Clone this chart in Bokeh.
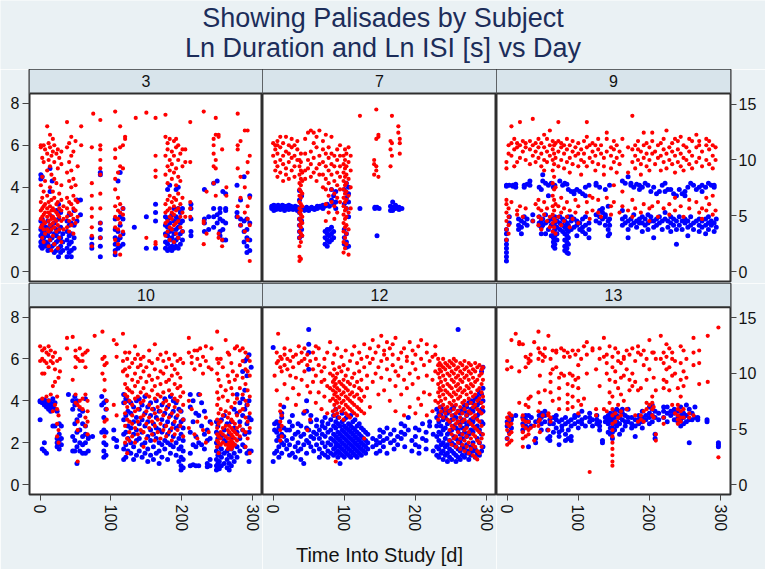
from bokeh.plotting import figure
from bokeh.models import Range1d, LinearAxis, FixedTicker, BoxAnnotation, Label, Span
from bokeh.layouts import gridplot, column
from bokeh.embed import file_html
from bokeh.resources import INLINE

TITLE_LINES = ["Showing Palisades by Subject", "Ln Duration and Ln ISI [s] vs Day"]
SUBJECTS = ["3", "7", "9", "10", "12", "13"]
X_TICKS = [0, 100, 200, 300]
Y_TICKS_LEFT = [0, 2, 4, 6, 8]
Y_TICKS_RIGHT = [0, 5, 10, 15]
X_LABEL = "Time Into Study [d]"

# ---- data: (day, [values at that day]), in left-axis units ----
s3_red = [
    (1, [2.1, 2.5, 2.9, 3.3, 4.1, 5.9, 6.0]), (3, [1.6, 2.2, 2.6, 3.0, 3.5, 4.5, 5.4]),
    (5, [1.4, 2.0, 2.4, 2.7, 3.1, 3.8, 5.2, 6.0]), (7, [1.8, 2.3, 2.8, 3.2, 4.3, 5.8]),
    (10, [2.0, 2.6, 3.0, 3.6, 4.8, 5.6, 6.9]), (12, [1.2, 1.9, 2.4, 2.8, 3.3, 5.3, 6.1]),
    (14, [1.5, 2.2, 2.7, 3.1, 4.0, 5.0, 5.9, 6.5]), (16, [1.0, 2.0, 2.5, 2.9, 3.4, 4.6, 5.5]),
    (18, [1.7, 2.3, 2.6, 3.0, 3.8, 5.7, 6.3]), (20, [1.3, 2.1, 2.5, 2.9, 3.5, 4.4, 5.2, 6.0]),
    (23, [1.9, 2.4, 2.8, 3.2, 4.2, 5.6]), (25, [1.1, 2.2, 2.7, 3.3, 4.9, 5.8]),
    (27, [1.6, 2.0, 2.6, 3.0, 3.7, 5.4]), (30, [1.4, 2.4, 2.9, 3.4, 4.1, 5.1, 5.7]),
    (33, [2.0, 2.5, 3.1]), (38, [2.1, 2.6, 3.0, 3.5, 4.7, 5.9, 7.1]),
    (41, [1.9, 2.4, 2.8, 3.3, 4.3, 5.2, 6.1]), (44, [2.2, 2.7, 3.2, 4.0, 4.8, 5.5, 6.4]),
    (47, [1.8, 2.5, 3.0, 3.6, 4.4, 5.7]), (50, [2.3, 2.9, 3.4, 4.1, 6.2]),
    (53, [2.6, 3.3, 5.0]), (58, [6.9, 6.0]),
    (73, [1.2, 1.7, 2.1, 2.6, 3.0, 3.6, 4.2, 5.9]), (75, [7.5]),
    (85, [1.6, 2.3, 3.0, 3.7, 4.6, 4.9, 5.3, 5.8, 6.0, 7.2]),
    (106, [0.9, 1.5, 2.1, 2.6, 3.1, 3.9, 4.4, 5.4, 5.8, 7.6]), (110, [1.3, 2.0, 2.5, 2.9, 3.5, 4.7]),
    (113, [0.8, 1.7, 2.3, 2.8, 3.2, 5.0, 5.9, 6.9]), (117, [1.9, 2.7, 3.0, 4.9, 6.0]),
    (120, [6.4, 6.3]), (135, [7.3]), (150, [1.6, 7.55]), (163, [1.3, 1.4, 4.5, 4.8, 5.5, 7.3]),
    (177, [1.7, 2.3, 2.8, 3.2, 4.6, 5.5, 6.4, 7.45]), (180, [1.9, 2.4, 2.9, 3.4, 4.2, 5.0, 5.8, 6.1]),
    (183, [1.5, 2.1, 2.6, 3.0, 3.6, 4.8, 5.3, 6.3]), (186, [2.0, 2.5, 2.8, 3.3, 4.4, 5.1, 5.7]),
    (189, [1.4, 2.2, 2.7, 3.1, 3.5, 4.7, 5.5, 6.2]), (192, [1.8, 2.3, 2.9, 3.4, 4.1, 4.9, 5.9, 6.3]),
    (195, [1.6, 2.4, 3.0, 3.7, 4.5, 5.3, 6.0]), (198, [2.1, 2.6, 3.2, 4.3, 5.6]),
    (201, [1.9, 2.8, 3.5, 5.0, 5.8]), (205, [2.6, 5.2, 5.8]), (212, [2.6, 3.0, 3.3, 5.2, 7.1]),
    (231, [1.3, 2.3, 2.4, 7.6]), (235, [1.8, 3.8]), (245, [4.2, 5.0, 5.6, 6.0, 6.3]),
    (248, [3.6, 4.9, 5.3, 6.5, 7.3]), (252, [1.6, 1.8, 6.4, 6.5]), (257, [1.5, 1.2, 5.8]),
    (263, [3.6, 4.0]), (279, [2.6, 3.1, 4.9, 5.8, 6.0, 7.5]), (283, [2.2, 3.5, 4.5, 6.2]),
    (289, [1.9, 2.8, 4.0, 6.7]), (293, [1.5, 2.5, 3.1, 4.7, 5.2, 6.7]), (296, [0.5, 2.2, 3.5, 5.5]),
]
s3_blue = [
    (1, [1.2, 1.4, 1.7, 2.0, 2.4, 4.4, 4.6]), (3, [1.1, 1.5, 1.8, 2.2, 2.5, 4.5]),
    (5, [1.3, 1.6, 1.9, 2.3]), (8, [1.2, 1.4, 1.8, 2.1]), (11, [1.0, 1.3, 1.7, 2.0, 2.4]),
    (14, [1.1, 1.5, 1.9, 2.2, 3.8, 4.9]), (17, [1.2, 1.6, 2.1, 2.6, 4.3]), (20, [0.9, 1.3, 1.8, 2.3]),
    (23, [1.0, 1.4, 1.7, 2.0, 2.9]), (26, [0.7, 1.1, 1.5, 1.9, 2.5, 3.2]), (29, [0.9, 1.2, 1.6, 2.1, 2.8]),
    (32, [1.0, 1.4, 1.8]), (38, [0.7, 1.1, 1.5, 1.9, 2.4]), (41, [0.9, 1.3, 1.7, 2.2, 2.7]),
    (44, [0.7, 1.0, 1.4, 1.8, 2.3]), (48, [1.1, 1.6, 2.2, 2.9]), (52, [2.4, 3.4]), (57, [2.7, 3.4]),
    (73, [1.1, 1.3, 1.6]), (85, [0.7, 1.2, 1.6, 2.0, 2.3, 4.6, 4.7]),
    (106, [0.8, 1.0, 1.3, 1.6, 2.0, 2.5]), (110, [1.1, 1.5, 1.9, 4.3]), (113, [1.2, 1.6, 2.2, 2.6, 4.7]),
    (117, [1.3, 1.8, 2.5, 3.0]), (133, [2.1]), (150, [1.1, 2.6]), (163, [1.1, 2.4, 2.8, 3.2]),
    (177, [1.1, 1.4, 1.8, 2.2, 2.6]), (180, [1.0, 1.3, 1.7, 2.1, 2.5, 3.9]), (183, [1.1, 1.5, 1.9, 2.3, 4.1]),
    (186, [1.0, 1.2, 1.6, 2.0, 2.7]), (189, [1.1, 1.4, 1.8, 2.4, 3.0]), (192, [1.2, 1.5, 2.0, 2.6, 3.9]),
    (195, [1.1, 1.6, 2.1, 2.5, 3.0, 4.0]), (198, [1.3, 1.8, 2.3, 2.8]), (201, [1.5, 1.9, 2.4, 3.0]),
    (213, [1.7, 1.9, 2.5, 3.0, 3.2]), (232, [1.9, 2.3, 2.5, 3.9]), (238, [2.0, 2.6]),
    (245, [2.1, 2.6, 3.0, 4.2]), (250, [2.3, 2.7, 4.3]), (254, [1.7, 1.9, 2.5, 3.0, 2.8]),
    (258, [1.5, 2.0, 2.4, 3.8]), (262, [1.5, 2.3, 2.9, 3.0, 3.7]), (278, [2.6, 2.8, 4.1]),
    (283, [2.2, 2.5, 3.4]), (288, [1.4, 1.9, 2.4, 4.5]), (292, [0.9, 1.2, 1.6, 2.0, 2.5]),
    (296, [1.0, 1.5, 2.3, 3.6]),
]
s7_red = [
    (0, [5.5, 6.1]), (3, [4.8, 5.2, 5.8, 6.0]), (6, [4.5, 5.0, 5.6, 6.2, 6.0]), (10, [4.7, 5.3, 5.9, 6.4]),
    (14, [4.3, 5.1, 5.5, 6.1]), (18, [4.6, 4.9, 5.7, 6.4]), (22, [4.4, 5.2, 5.6, 6.0]),
    (26, [4.8, 5.4, 5.9, 6.3]), (30, [4.5, 5.0, 5.5, 6.0]), (34, [5.3, 5.8, 6.2]),
    (37, [0.5, 0.7, 1.2, 1.6, 1.9, 2.2, 2.5, 2.8, 3.0, 3.3, 3.6, 3.9, 4.2, 4.6, 5.0, 5.3]),
    (39, [0.6, 1.4, 1.8, 2.1, 2.4, 2.7, 2.9, 3.2, 3.5, 3.8, 4.1, 4.4, 4.8, 5.2, 5.6]),
    (41, [1.7, 2.3, 2.6, 3.1, 3.7, 4.3, 4.7]), (45, [4.4, 4.8, 5.6, 6.3]), (49, [4.9, 5.3, 6.6]),
    (53, [4.5, 5.1, 5.7, 6.7]), (57, [4.7, 5.4, 6.1, 6.6]), (61, [4.3, 4.9, 5.9, 6.4]),
    (65, [4.6, 5.1, 5.5, 6.7]), (70, [4.0, 4.6, 5.2, 5.8, 6.2]), (74, [2.4, 3.2, 3.9, 4.4, 5.0, 5.6, 6.5]),
    (78, [2.8, 3.6, 4.2, 4.8, 5.4, 5.9]), (82, [3.3, 3.9, 4.6, 5.1, 5.6, 6.4]),
    (86, [2.5, 3.1, 3.7, 4.3, 5.0, 5.5]), (90, [2.8, 3.5, 4.1, 4.7, 5.3, 5.8]),
    (94, [3.3, 3.9, 4.5, 5.0, 5.5, 6.0]),
    (99, [0.9, 1.4, 1.9, 2.3, 2.7, 3.1, 3.5, 3.9, 4.3, 4.7, 5.1, 5.5]),
    (101, [1.1, 1.6, 2.1, 2.5, 2.9, 3.3, 3.7, 4.1, 4.5, 4.9, 5.3, 5.8]),
    (103, [1.3, 1.8, 2.2, 2.6, 3.0, 3.4, 3.8, 4.2, 4.6, 5.0, 5.6]),
    (106, [0.8, 2.0, 2.8, 3.6, 4.4, 5.2, 5.9]), (109, [3.0, 4.0, 4.8, 5.5]), (122, [7.4]),
    (142, [4.6, 5.1, 5.3]), (145, [4.8, 5.0, 6.3, 7.7]), (148, [4.5, 6.5, 6.4]),
    (165, [5.0, 5.8, 6.2]), (167, [5.5, 6.1, 7.4]), (176, [6.9, 6.6]), (178, [6.3, 6.1, 5.6]),
]
s7_blue = [
    (-2, [3.0, 3.1]), (1, [2.9, 3.05, 3.15]), (4, [2.95, 3.1]), (7, [3.0, 3.1, 3.15]), (10, [2.95, 3.05]),
    (13, [3.0, 3.15]), (16, [2.9, 3.05, 3.1]), (19, [3.0, 3.1]), (22, [2.95, 3.05, 3.15]), (25, [3.0, 3.1]),
    (28, [2.95, 3.05]), (31, [3.0, 3.1]), (34, [2.9, 3.05]),
    (37, [1.6, 1.9, 2.2, 2.5, 2.8, 3.0, 3.4, 3.85]), (40, [1.7, 2.0, 2.4, 3.05, 3.6]),
    (44, [2.9, 3.0]), (47, [2.95, 3.05]), (50, [2.9, 3.0]), (54, [3.0, 3.05]), (58, [2.95, 3.0]),
    (62, [3.0, 3.1]), (66, [3.05, 3.1]), (70, [3.0, 3.15]), (73, [1.3, 1.6, 1.9, 3.1]),
    (76, [1.2, 1.5, 1.8, 2.0, 3.2]), (79, [1.4, 1.7, 2.0, 3.1]), (82, [1.5, 1.8, 2.1, 3.4, 3.9]),
    (85, [1.6, 1.9, 3.2, 3.6]), (88, [3.0, 3.3, 3.8]), (100, [1.3, 1.6, 2.0, 3.2, 3.9]),
    (103, [1.15, 1.4, 1.8, 3.0, 3.5, 4.2]), (106, [1.2, 2.6, 3.3, 3.7, 4.0]), (122, [3.0]),
    (143, [3.0, 3.05]), (146, [1.7, 3.05]), (149, [3.0]), (165, [2.9, 3.1]), (168, [3.05, 3.3, 2.9]),
    (172, [3.0, 3.1, 3.15]), (177, [2.95, 3.05]), (181, [3.0]),
]
s9_red = [
    (-1, [1.5, 2.0, 2.4, 2.8, 3.2, 3.4, 4.9, 5.2]), (2, [1.8, 2.2, 2.6, 3.0, 5.6, 6.0]),
    (6, [3.3, 5.5, 6.1, 6.9]), (10, [5.8, 6.3, 5.0]), (14, [2.7, 2.9, 5.2, 5.9, 6.1]),
    (18, [3.1, 5.4, 6.0, 7.1]), (22, [2.6, 5.7, 6.2]), (26, [3.0, 5.3, 5.9, 6.1]), (32, [5.1, 5.8, 6.2]),
    (36, [2.4, 5.5, 6.0, 7.25]), (40, [3.2, 5.2, 5.7, 6.1]), (44, [2.2, 2.6, 3.0, 3.4, 5.4, 5.9, 6.3]),
    (48, [2.0, 2.5, 2.9, 5.0, 5.6, 6.1]), (52, [2.7, 3.3, 4.8, 5.3, 5.9, 6.5]),
    (56, [2.4, 3.0, 5.2, 5.7, 6.3]), (60, [2.1, 2.6, 5.5, 6.0, 6.7]),
    (64, [1.9, 2.3, 2.7, 3.1, 3.6, 4.2, 4.8, 5.3, 5.8, 6.2]),
    (66, [2.1, 2.5, 2.9, 3.4, 3.9, 4.5, 5.1, 5.6, 6.0]), (68, [1.8, 2.4, 3.2, 4.0, 5.4, 6.1]),
    (72, [2.6, 3.1, 5.0, 5.7, 6.2, 7.1]), (76, [2.2, 2.8, 3.5, 5.3, 5.9, 6.1]),
    (80, [2.4, 3.0, 4.9, 5.6, 6.0]), (84, [2.6, 3.3, 5.2, 5.8, 6.3]), (88, [2.1, 2.9, 4.7, 5.4, 6.0]),
    (92, [2.5, 5.1, 5.7, 6.2]), (96, [2.8, 3.4, 5.5, 5.9]), (100, [2.3, 3.1, 5.0, 5.6, 6.1]),
    (104, [4.6, 5.3, 5.8]), (108, [5.2, 5.6, 6.2]), (112, [2.8, 3.3, 5.0, 5.9, 6.4, 7.1]),
    (116, [2.5, 3.6, 5.4, 6.0]), (120, [2.9, 3.5, 5.2, 5.7, 6.1]), (124, [4.8, 5.5, 6.0]),
    (128, [2.8, 3.4, 5.1, 5.8, 6.3]), (132, [2.6, 5.6, 6.0]), (136, [4.6, 5.0, 5.4]),
    (140, [3.5, 5.7, 6.3, 6.6]), (146, [2.7, 3.1, 4.9, 5.5, 5.9]), (150, [3.3, 4.1, 5.2, 5.8, 6.2]),
    (154, [4.7, 5.4, 6.0]), (158, [2.8, 5.1, 5.7]), (162, [3.1, 3.8, 5.5, 6.3]), (170, [2.9, 4.7, 5.9]),
    (176, [2.6, 3.4, 5.2, 5.8, 7.4]), (180, [3.0, 4.9, 5.5, 6.0]), (184, [5.3, 5.8, 6.2]),
    (188, [2.8, 4.6, 5.1, 5.7]), (192, [3.2, 5.4, 6.0, 6.6]), (196, [5.0, 5.6, 6.1]),
    (200, [2.4, 3.0, 4.8, 5.3, 5.9]), (204, [3.1, 5.6, 6.2, 6.6]), (208, [5.1, 5.7]),
    (212, [2.6, 3.3, 5.4, 6.0]), (216, [4.8, 5.5, 6.1]), (220, [3.0, 5.2, 5.8, 6.3]),
    (224, [4.9, 5.6, 6.7]), (228, [2.7, 3.2, 5.3, 5.9]), (232, [5.1, 5.7, 6.1]),
    (236, [2.9, 3.5, 4.7, 5.5, 6.3]), (240, [5.2, 5.8, 6.2]), (244, [3.1, 5.0, 5.6, 6.4]),
    (248, [2.6, 4.8, 5.4, 6.0]), (252, [5.3, 5.9]), (256, [3.0, 3.4, 5.1, 5.7, 6.3]),
    (260, [4.9, 5.5, 6.2]), (266, [3.3, 5.2, 5.9, 6.5]), (270, [2.8, 5.4, 6.0, 6.2]),
    (274, [2.5, 3.0, 5.0, 5.7]), (280, [2.9, 3.5, 5.3, 6.0, 6.3]), (284, [3.2, 5.1, 5.8, 6.2]),
    (289, [2.7, 3.6, 4.9, 5.5, 6.0]), (293, [2.9, 5.3, 5.9]),
]
s9_blue = [
    (-1, [0.5, 0.7, 0.9, 1.1, 1.3, 1.5, 1.8, 2.0, 4.1, 4.05]), (3, [2.3, 2.6, 4.1]), (8, [4.05, 4.1]),
    (12, [4.0, 4.15]), (16, [2.2, 2.5, 2.0]), (20, [1.8, 2.1, 2.4]), (24, [2.3, 2.6, 4.1, 4.0]),
    (28, [2.2, 2.5, 4.15]), (32, [4.1, 4.3]), (36, [2.4, 2.7]), (45, [2.2, 2.3, 2.6, 4.0]),
    (48, [1.8, 2.1, 2.4, 3.9]), (50, [2.2, 2.5, 4.6, 4.3]), (54, [1.8, 2.3, 2.7, 4.2]),
    (58, [2.0, 2.4, 3.6, 4.1]), (62, [1.7, 2.2, 2.5, 4.2]), (65, [1.2, 1.4, 1.6, 1.9, 2.2, 2.5, 4.0]),
    (67, [1.1, 1.3, 1.7, 2.0, 2.3, 2.6, 4.1]), (70, [1.5, 1.8, 2.1, 2.4]), (74, [2.0, 2.3, 2.6, 4.3]),
    (78, [1.9, 2.2, 2.5, 4.1]), (81, [1.0, 1.2, 1.5, 1.8, 2.1, 2.4, 4.2]),
    (84, [0.9, 1.1, 1.4, 1.7, 2.0, 2.3, 4.15]), (86, [0.85, 1.3, 1.6, 1.9, 2.2, 2.6, 3.9]),
    (90, [2.0, 2.4, 2.6, 3.8]), (94, [2.1, 2.5, 3.8, 3.7]), (98, [1.7, 2.2, 2.4, 3.9]),
    (102, [2.0, 2.3, 3.8]), (106, [1.9, 2.1, 2.5, 3.7]), (110, [1.8, 2.2, 2.6, 3.6, 4.0]),
    (115, [1.6, 2.0, 2.3, 4.1]), (125, [2.4, 2.7, 4.2, 4.1]), (130, [2.3, 2.6, 2.9, 4.0]),
    (134, [2.5, 2.8, 3.0]), (138, [2.2, 2.6, 2.7, 3.9]), (142, [1.7, 2.0, 2.4, 3.1]),
    (144, [1.8, 2.2, 2.5, 4.1]), (162, [2.2, 2.5, 2.9, 4.3]), (166, [2.3, 2.6, 4.2]),
    (170, [1.6, 2.0, 2.4, 4.5]), (174, [2.2, 2.5, 4.2, 4.1]), (178, [2.3, 2.7, 4.0]),
    (182, [2.1, 2.4, 4.15]), (186, [2.3, 2.5, 3.9, 4.1]), (190, [1.9, 2.3, 2.6, 4.0]),
    (194, [2.2, 2.5, 4.2]), (198, [2.0, 2.3, 2.7, 4.1]), (202, [2.4, 2.6, 3.8]),
    (206, [1.6, 2.1, 2.4, 4.0]), (210, [2.2, 2.5, 3.7]), (214, [2.3, 2.6, 3.8]), (218, [2.0, 2.4, 4.1]),
    (222, [2.5, 2.8, 4.2, 3.8]), (226, [2.1, 2.4, 3.9]), (230, [1.9, 2.3, 2.6, 3.9]),
    (234, [2.2, 2.5, 3.7]), (238, [1.3, 2.0, 2.4, 3.6]), (242, [2.2, 2.6, 3.9]), (246, [2.0, 2.4, 3.7]),
    (250, [2.3, 2.5, 3.6, 3.8]), (254, [1.7, 2.1, 2.4, 4.0]), (258, [2.2, 2.6, 4.2]),
    (262, [2.0, 2.3, 4.1]), (266, [2.4, 3.9]), (270, [1.9, 2.2, 2.5, 4.0]), (274, [2.1, 2.4, 3.8, 4.1]),
    (279, [1.8, 2.2, 2.5, 4.0]), (283, [2.0, 2.3, 2.6, 4.2]), (287, [2.2, 2.4, 4.1]),
    (291, [1.9, 2.3, 4.0, 4.1]), (294, [2.1, 2.5]),
]
s10_red = [
    (0, [5.9, 6.6]), (3, [4.1, 5.3, 6.0, 6.4]), (6, [5.3, 5.9, 6.5]), (9, [5.8, 6.3, 4.2]),
    (12, [4.0, 5.6, 6.2, 6.6]), (15, [4.3, 5.9, 6.4]), (18, [3.5, 4.7, 5.8, 6.1]),
    (21, [3.8, 4.9, 5.5, 6.3]), (24, [2.3, 2.9, 3.6, 4.2, 5.9]), (26, [2.0, 2.6, 3.3, 5.1]),
    (28, [6.0, 5.4]), (38, [7.0, 6.5]), (46, [5.0, 7.05]), (50, [3.9, 4.3, 5.6, 6.4, 6.1]),
    (53, [1.1, 2.6, 3.0, 3.8, 6.0]), (56, [3.7, 4.0, 5.9, 6.5]), (60, [3.6, 4.1, 6.2, 5.9]),
    (64, [2.8, 3.2, 4.3, 5.6, 6.3]), (67, [2.4, 3.0, 3.5, 4.0, 6.4]), (77, [7.1]),
    (88, [5.3, 6.0, 7.3]), (91, [2.3, 3.0, 4.5, 5.0, 5.7, 6.1]), (94, [3.1, 3.6, 4.0, 5.8]),
    (104, [6.9, 3.8]), (108, [3.3, 6.7, 6.1]), (117, [7.2, 5.4, 5.9]),
    (120, [2.0, 2.8, 3.4, 3.9, 4.3, 4.8, 5.5, 6.3]), (123, [1.5, 2.2, 3.1, 3.7, 4.2, 4.6, 5.2, 6.0]),
    (126, [2.1, 2.5, 3.0, 4.0, 4.5, 5.6, 6.3]), (130, [2.3, 2.9, 3.3, 3.8, 4.4, 5.0, 5.8]),
    (134, [2.0, 2.7, 3.5, 4.1, 4.7, 5.3, 6.0, 6.6]), (138, [2.4, 3.0, 3.6, 4.2, 4.9, 5.6, 6.2]),
    (142, [2.6, 3.2, 3.9, 4.4, 5.1, 5.7, 6.0]), (146, [1.8, 2.5, 3.3, 4.0, 4.6, 5.4, 6.1]),
    (150, [2.2, 2.9, 3.5, 4.3, 4.9, 5.6]), (154, [2.7, 3.2, 3.8, 4.2, 5.2, 5.9, 6.4]),
    (158, [2.4, 3.0, 3.6, 4.5, 5.0, 5.8]), (162, [2.1, 2.8, 3.4, 4.1, 4.7, 5.5, 6.7]),
    (166, [2.5, 3.1, 3.7, 4.3, 5.1, 6.0]), (170, [2.2, 2.9, 3.5, 4.2, 4.8, 5.4, 6.2]),
    (174, [2.6, 3.3, 3.9, 4.4, 5.3, 5.9]), (178, [2.3, 2.8, 3.6, 4.0, 4.9, 5.6, 6.3]),
    (182, [2.5, 3.2, 3.8, 4.5, 5.0, 6.0]), (186, [2.1, 2.7, 3.4, 4.3, 5.2, 5.7]),
    (190, [2.4, 3.0, 3.7, 4.1, 4.8, 5.5, 6.2]), (194, [2.6, 3.3, 4.0, 4.6, 5.3, 5.9]),
    (198, [2.8, 3.5, 4.2, 4.7, 5.1, 6.0]), (202, [2.3, 3.1, 3.8, 4.4, 5.8]),
    (210, [7.0, 6.3, 4.0, 2.7]), (214, [5.8, 6.1, 3.6]), (218, [6.4, 5.5, 2.4]), (222, [6.0, 6.4, 3.0, 2.2]),
    (226, [6.5, 5.7, 4.3]), (230, [6.1, 5.3, 2.6]), (234, [6.6, 5.9, 3.2, 2.0]), (238, [5.6, 2.5]),
    (242, [6.5, 5.5, 2.9]), (250, [7.3, 6.0, 5.3, 4.4, 3.8, 3.1, 2.7, 2.4, 2.1, 1.8]),
    (252, [5.8, 5.0, 4.1, 3.4, 2.9, 2.3, 2.0, 1.5]), (255, [6.0, 4.7, 3.6, 3.0, 2.5, 2.2, 1.9]),
    (258, [5.6, 4.2, 3.3, 2.7, 2.4, 2.0]), (262, [6.9, 4.5, 3.5, 2.8, 2.3, 1.9]),
    (265, [6.3, 5.2, 4.0, 3.2, 2.6, 2.2, 1.9, 1.7]), (267, [6.2, 4.9, 3.4, 2.8, 2.5, 2.2, 2.0, 1.8]),
    (270, [5.8, 4.6, 3.7, 3.1, 2.7, 2.4, 2.1, 1.9, 1.7]), (272, [5.4, 4.3, 3.0, 2.6, 2.3, 2.0, 1.8]),
    (275, [6.5, 5.0, 3.9, 2.9, 2.5, 2.2, 1.9]), (278, [6.6, 5.2, 4.1, 3.3, 2.7, 2.4, 2.1]),
    (282, [6.4, 5.7, 4.6, 3.5, 2.8, 2.3]), (286, [6.5, 5.9, 5.1, 4.3, 3.6, 2.6]),
    (290, [6.3, 5.5, 4.8, 4.0, 3.2, 2.5, 1.8]), (293, [6.1, 5.4, 4.5, 3.8, 3.0, 2.2]),
    (296, [5.9, 5.2, 4.2, 3.4, 2.7, 1.5]),
]
s10_blue = [
    (0, [3.1, 4.0, 3.95]), (3, [3.9, 4.0, 1.7]), (6, [3.8, 4.05, 1.6, 2.0]), (9, [3.7, 3.95, 1.5]),
    (12, [3.6, 3.85, 4.0]), (15, [3.5, 3.75, 3.9]), (18, [2.8, 3.7, 4.1]), (21, [2.8, 3.6, 3.9]),
    (24, [1.8, 2.0, 2.2, 3.5]), (27, [1.7, 2.1, 2.4, 2.9]), (30, [1.9, 2.2, 2.8]), (40, [4.3]),
    (46, [3.6, 4.0, 2.3, 1.6]), (49, [1.6, 2.1, 2.9, 4.2, 3.8]), (52, [1.0, 1.8, 2.5, 3.1, 4.0]),
    (56, [1.6, 2.0, 2.6, 3.3, 3.6]), (60, [1.5, 1.9, 2.3, 2.9, 3.5]), (64, [1.5, 2.0, 2.4, 2.8, 4.1]),
    (68, [1.6, 2.2, 2.3]), (74, [2.3]), (87, [3.8, 4.2, 2.5]), (90, [1.3, 1.6, 2.0, 2.6, 3.2, 3.9]),
    (93, [1.4, 1.9, 2.5, 3.6, 4.0]), (104, [2.2, 2.6]), (108, [1.8, 2.1]),
    (118, [1.2, 1.7, 2.4, 3.1, 3.9, 4.3]), (121, [1.3, 1.9, 2.5, 3.3, 4.1]), (124, [1.6, 2.2, 2.8, 3.5, 4.0]),
    (128, [1.5, 2.0, 2.7, 3.4, 3.9]), (132, [1.2, 1.8, 2.4, 3.0, 3.7]), (136, [1.4, 2.1, 2.6, 3.2, 4.0]),
    (140, [1.6, 2.2, 2.9, 3.6, 4.1]), (144, [1.3, 1.9, 2.5, 3.1, 3.8]), (148, [1.5, 2.0, 2.8, 3.4, 4.2]),
    (152, [1.1, 1.7, 2.3, 3.0, 3.7]), (156, [1.4, 2.1, 2.6, 3.3, 3.9]), (160, [1.2, 1.8, 2.4, 2.9, 3.6]),
    (164, [1.5, 2.2, 2.7, 3.2, 4.0]), (168, [1.0, 1.6, 2.0, 2.6, 3.5]), (172, [1.3, 1.9, 2.5, 3.1, 3.8]),
    (176, [1.7, 2.1, 2.8, 3.4, 4.1]), (180, [1.2, 2.0, 2.4, 3.0, 3.7]), (184, [1.5, 1.9, 2.6, 3.3, 4.2]),
    (188, [1.8, 2.3, 2.9, 3.5, 4.0]), (192, [1.4, 2.0, 2.7, 3.2, 3.9]), (196, [1.1, 1.7, 2.2, 2.8, 3.6]),
    (199, [0.7, 0.9, 1.3, 1.8, 2.4, 3.0, 3.5]), (202, [0.8, 1.2, 1.6, 2.1, 2.7, 3.1]),
    (212, [0.9, 1.5, 2.5, 4.3, 3.7]), (216, [0.95, 1.9, 3.0, 4.0]), (220, [0.9, 1.8, 2.3, 3.4]),
    (224, [0.9, 4.3, 3.3, 2.0]), (228, [1.9, 2.8, 3.9]), (232, [1.7, 2.4, 3.5]), (236, [0.85, 1.0, 2.1, 2.6]),
    (240, [0.9, 1.2, 2.2, 3.0]), (249, [0.7, 0.9, 1.2, 1.6, 2.0, 2.5, 3.0]),
    (251, [0.8, 1.0, 1.4, 1.8, 2.2, 2.8]), (253, [0.75, 1.1, 1.5, 1.9, 2.4]),
    (256, [0.9, 1.3, 1.7, 2.3, 3.1]), (260, [1.0, 1.5, 2.1, 2.6, 3.3]), (264, [0.8, 1.2, 1.6, 2.0, 2.9]),
    (267, [0.7, 1.0, 1.4, 1.8, 2.4]), (270, [0.9, 1.3, 1.7, 2.2, 3.0]), (274, [1.1, 1.5, 1.9, 2.7, 3.6]),
    (278, [1.3, 1.8, 2.5, 3.4, 4.3]), (282, [1.6, 2.2, 3.0, 3.9]), (286, [1.9, 2.6, 3.3, 4.1, 5.4]),
    (289, [1.8, 2.4, 3.6, 4.5, 5.9]), (292, [1.5, 2.9, 3.8, 5.2, 6.0]),
    (295, [1.1, 1.6, 2.5, 3.2, 4.0, 6.2]), (298, [1.6, 3.1, 5.6]),
]
s12_red = [
    (2, [5.2]), (5, [4.5, 5.8, 6.3]), (7, [7.2, 5.9]), (10, [2.1, 2.6, 3.0, 3.5, 3.8, 5.6, 6.1]),
    (12, [2.3, 2.8, 3.3, 5.4, 6.0]), (16, [4.8, 5.7, 6.2, 6.5]), (20, [4.1, 5.5, 6.0]),
    (24, [5.2, 5.9, 6.4]), (28, [4.6, 5.6, 6.1]), (32, [3.8, 5.1, 6.2]), (36, [4.3, 5.8, 6.6]),
    (40, [5.0, 5.9, 6.3]), (44, [3.5, 5.4, 6.0, 6.5]), (48, [2.6, 4.7, 5.7, 6.2]), (52, [3.1, 4.4, 5.9]),
    (56, [4.9, 5.5, 6.3]), (60, [3.9, 5.2, 6.0, 6.6]), (64, [4.4, 5.7, 6.5]), (68, [3.6, 4.9, 5.4]),
    (72, [4.2, 5.0, 5.6, 6.0]), (76, [3.4, 4.7, 6.3]), (80, [4.0, 4.6, 5.3, 6.8]),
    (84, [3.5, 4.1, 4.5, 4.9, 5.2, 5.8]), (86, [3.3, 3.8, 4.3, 4.7, 5.0, 5.5, 6.2]),
    (88, [1.1, 3.6, 4.0, 4.4, 4.8, 5.1]), (90, [3.4, 3.9, 4.2, 4.6, 5.3, 6.5]),
    (93, [3.2, 3.7, 4.1, 4.5, 4.9, 5.6]), (96, [3.5, 3.9, 4.3, 4.8, 5.4, 6.1]),
    (99, [3.1, 3.6, 4.0, 4.4, 4.7, 5.0, 5.7]), (102, [3.4, 3.8, 4.2, 4.6, 5.2, 6.4]),
    (105, [3.3, 3.7, 4.1, 4.5, 4.9, 5.5]), (108, [3.2, 3.6, 4.0, 4.3, 4.8, 5.9]),
    (111, [3.5, 3.9, 4.4, 5.1, 6.2]), (114, [3.4, 3.8, 4.2, 4.7, 5.3, 6.6]),
    (118, [3.3, 3.7, 4.3, 4.9, 5.8]), (121, [3.6, 4.1, 4.6, 5.4, 6.3]), (124, [3.5, 4.0, 4.5, 5.0, 6.0]),
    (128, [2.2, 3.4, 4.2, 5.6, 6.7]), (132, [4.6, 5.2, 6.1]), (136, [3.7, 5.8, 6.5]), (140, [4.9, 6.0, 6.9]),
    (144, [5.3, 6.3]), (148, [4.3, 5.6, 6.6]), (152, [5.1, 5.9, 7.1]), (156, [4.5, 6.2, 6.4]),
    (160, [5.5, 6.0, 6.8]), (164, [4.0, 5.0, 6.5]), (168, [5.7, 6.2, 6.7]), (172, [3.5, 4.7, 5.4, 7.0]),
    (176, [5.2, 6.0]), (180, [4.3, 5.6, 6.3]), (184, [3.3, 5.0, 6.5]), (188, [4.6, 5.9, 6.1]),
    (192, [3.7, 5.3, 6.8]), (196, [4.8, 5.8, 6.4]), (200, [3.4, 5.5, 6.2]), (204, [4.1, 5.1, 6.6]),
    (208, [3.8, 6.0, 6.9]), (212, [4.4, 5.7]), (216, [3.3, 5.2, 6.3, 6.7]), (220, [4.3, 5.9]),
    (224, [3.5, 5.0, 6.1]), (228, [4.0, 5.4, 6.2, 6.6]), (232, [3.1, 3.9, 4.4, 4.8, 5.3, 5.7, 6.0]),
    (234, [3.3, 3.7, 4.2, 4.6, 5.1, 5.5, 5.8]), (236, [3.5, 4.0, 4.5, 4.9, 5.4, 5.7]),
    (239, [3.2, 3.8, 4.3, 4.7, 5.2, 5.6, 6.0]), (242, [3.4, 3.6, 4.1, 4.5, 5.0, 5.5, 5.8]),
    (245, [3.1, 3.7, 4.4, 4.8, 5.3, 5.7]), (248, [2.1, 2.6, 3.0, 3.5, 3.9, 4.3, 4.7, 5.2, 5.6, 5.9]),
    (251, [1.9, 2.4, 2.8, 3.3, 3.8, 4.2, 4.6, 5.0, 5.4, 5.8]),
    (254, [2.2, 2.7, 3.1, 3.6, 4.0, 4.4, 4.9, 5.3, 5.7, 6.0]),
    (257, [1.8, 2.3, 2.9, 3.4, 3.8, 4.3, 4.7, 5.1, 5.5, 5.9]),
    (260, [2.0, 2.5, 3.0, 3.5, 4.1, 4.5, 4.8, 5.2, 5.6]),
    (263, [1.7, 2.2, 2.8, 3.2, 3.7, 4.2, 4.6, 5.0, 5.4, 5.8]),
    (266, [1.9, 2.4, 3.0, 3.4, 3.9, 4.4, 4.9, 5.3, 5.7]),
    (269, [1.6, 2.1, 2.6, 3.1, 3.6, 4.0, 4.5, 5.1, 5.5, 5.9]),
    (272, [1.8, 2.3, 2.7, 3.3, 3.8, 4.3, 4.7, 5.2, 5.6]),
    (275, [1.5, 2.0, 2.5, 3.0, 3.5, 4.1, 4.6, 5.0, 5.4, 5.8]),
    (278, [1.7, 2.2, 2.9, 3.4, 3.9, 4.4, 4.8, 5.3, 5.7]),
    (281, [1.4, 1.9, 2.4, 2.8, 3.2, 3.7, 4.2, 4.7, 5.1, 5.5]),
    (284, [1.3, 1.8, 2.3, 2.7, 3.3, 3.8, 4.3, 4.9, 5.4, 5.8]),
    (287, [1.2, 1.6, 2.1, 2.6, 3.1, 3.6, 4.0, 4.5, 5.0, 5.6]),
    (290, [1.5, 2.0, 2.5, 3.0, 3.5, 4.1, 4.6, 5.2, 5.7]),
    (293, [1.8, 2.2, 2.8, 3.4, 3.9, 4.4, 4.8, 5.3, 5.5]), (295, [2.4, 3.7, 4.2, 5.0, 5.6]),
]
s12_blue = [
    (0, [6.55, 1.1]), (2, [2.6, 2.9, 1.5]), (5, [1.6, 2.1, 2.5, 3.0]), (8, [1.3, 1.8, 2.3, 2.7, 2.9]),
    (12, [1.5, 2.0, 2.4, 3.2, 3.4]), (15, [1.9, 2.3, 2.7, 3.7]), (19, [1.7, 2.1, 2.6]),
    (23, [1.4, 1.9, 2.6, 3.0]), (27, [1.5, 2.2, 2.8, 3.3]), (31, [1.3, 1.8, 2.4]),
    (35, [1.6, 2.0, 2.5, 2.9]), (39, [1.2, 1.7, 2.3, 2.8]), (43, [1.0, 1.9, 2.4, 3.4]),
    (47, [1.5, 2.1, 2.7, 3.5, 4.0]), (50, [7.4, 6.7, 2.0, 2.6, 5.5, 6.3]), (53, [1.8, 2.3, 3.0, 3.3]),
    (57, [1.6, 2.2, 2.5]), (61, [1.9, 2.4, 2.8, 3.1]), (65, [1.3, 1.7, 2.2, 2.6]),
    (69, [1.5, 2.0, 2.4, 2.8, 3.0]), (73, [1.4, 1.8, 2.3, 2.7, 3.2]), (77, [1.3, 1.6, 2.0, 2.5, 2.9]),
    (81, [1.5, 1.9, 2.2, 2.6, 3.1]), (85, [1.4, 1.7, 2.1, 2.4, 2.8, 3.3]),
    (88, [1.5, 1.8, 2.0, 2.3, 2.7, 3.0, 3.6]), (91, [1.3, 1.6, 1.9, 2.2, 2.5, 2.9, 3.2]),
    (94, [1.0, 1.5, 1.8, 2.1, 2.4, 2.8]), (97, [1.4, 1.7, 2.0, 2.3, 2.6, 3.0, 3.4]),
    (100, [1.3, 1.6, 1.9, 2.2, 2.5, 2.8, 3.1]), (103, [1.5, 1.8, 2.1, 2.4, 2.7, 3.2]),
    (106, [1.4, 1.7, 2.0, 2.3, 2.6, 2.9]), (109, [1.3, 1.6, 1.9, 2.2, 2.5, 2.8, 3.3]),
    (112, [1.5, 1.8, 2.1, 2.4, 2.7, 3.0]), (115, [1.4, 1.7, 2.0, 2.3, 2.6, 3.1]),
    (118, [1.3, 1.6, 1.9, 2.2, 2.5, 2.8]), (121, [1.5, 1.8, 2.1, 2.4, 2.9]), (124, [1.4, 1.7, 2.0, 2.3, 2.7]),
    (127, [1.6, 1.9, 2.2, 2.6]), (130, [1.5, 1.8, 2.1, 2.5]), (133, [1.7, 2.0, 2.4]), (140, [1.8, 2.2]),
    (145, [1.5, 1.9, 2.1]), (150, [1.6, 2.0, 2.3, 2.6]), (155, [1.8, 2.1, 2.5]), (160, [1.5, 2.2, 2.7]),
    (165, [2.0, 2.4]), (170, [1.7, 2.1, 2.6]), (175, [1.9, 2.3]), (180, [2.2, 2.5, 2.9]),
    (185, [1.8, 2.4, 2.8]), (190, [2.6, 3.2]), (195, [1.6, 2.1]), (200, [1.9, 2.3, 2.7]),
    (205, [1.5, 1.8, 2.6]), (210, [2.2, 2.9]), (215, [1.7, 2.1, 2.5]), (220, [2.8, 3.0]), (225, [1.6, 2.4]),
    (230, [1.4, 1.8, 2.3, 2.8, 3.2, 3.6]), (233, [1.3, 1.7, 2.1, 2.5, 3.0, 3.4]),
    (236, [1.5, 1.9, 2.4, 2.8, 3.3, 3.7]), (239, [1.2, 1.6, 2.0, 2.6, 3.1, 3.5]),
    (242, [1.4, 1.8, 2.2, 2.7, 3.2, 3.6]), (245, [1.1, 1.5, 1.9, 2.4, 2.9, 3.4]),
    (248, [1.3, 1.7, 2.1, 2.5, 3.0, 3.5]), (251, [1.2, 1.6, 2.0, 2.6, 3.1, 3.6]),
    (254, [1.5, 1.9, 2.3, 2.8, 3.3, 3.7]), (257, [1.1, 1.4, 1.8, 2.2, 2.7, 3.2]),
    (260, [1.3, 1.7, 2.1, 2.6, 3.0, 3.5, 7.4]), (263, [1.2, 1.6, 2.0, 2.4, 2.9, 3.4]),
    (266, [1.4, 1.8, 2.2, 2.7, 3.1, 3.6]), (269, [1.3, 1.7, 2.5, 3.0, 3.5, 3.8]),
    (272, [1.5, 1.9, 2.3, 2.8, 3.3, 3.7]), (275, [1.2, 1.6, 2.4, 2.9, 3.4, 3.9]),
    (278, [1.4, 1.8, 2.6, 3.1, 3.6, 4.0]), (281, [1.6, 2.0, 2.5, 3.0, 3.5, 3.9]),
    (284, [1.3, 1.7, 2.7, 3.2, 3.7, 4.1]), (287, [1.5, 2.2, 2.8, 3.3, 3.8, 4.2]),
    (290, [1.4, 2.0, 2.6, 3.4, 3.9, 4.4]), (293, [1.6, 2.4, 3.0, 3.6, 4.3, 5.4]),
    (295, [1.8, 2.9, 3.5, 4.0, 4.6, 5.6]),
]
s13_red = [
    (0, [1.9, 2.2, 2.6, 2.9, 3.2, 5.5, 5.9]), (3, [2.0, 2.4, 2.8, 3.1, 3.4]),
    (6, [2.1, 2.5, 2.9, 3.3, 5.6, 6.9]), (12, [7.2]), (17, [5.4, 6.7, 6.8, 3.9]),
    (22, [1.8, 2.2, 2.5, 2.8, 3.1, 3.3, 6.7]), (26, [2.3, 2.7, 3.0, 3.8, 5.6, 6.1]),
    (30, [2.4, 2.6, 3.0, 3.7, 4.1, 6.0, 5.8]), (33, [2.7, 4.2, 5.9, 6.2]), (38, [2.1, 2.8, 6.8]),
    (44, [2.8, 3.0, 3.5, 4.4, 6.0, 6.5, 7.3]), (46, [2.5, 3.1, 3.9, 5.2, 6.3]), (50, [6.2, 5.9, 3.3]),
    (53, [4.5, 6.5, 6.1]), (58, [2.6, 3.3, 3.4, 7.1]), (61, [3.0, 3.2, 4.4, 4.9, 5.3, 6.0]),
    (64, [4.0, 5.5, 6.4]), (69, [5.6, 6.4, 6.3]), (73, [3.6, 4.1, 4.6, 5.1]), (76, [6.5, 5.3]),
    (80, [5.2, 6.1, 6.4]), (85, [6.3, 4.8, 4.3, 3.9, 3.6]), (88, [6.1, 5.3]),
    (92, [3.7, 4.2, 4.7, 5.2, 6.4]), (96, [6.2, 5.0]), (100, [3.4, 4.0, 4.6, 5.1, 5.7, 6.4]),
    (104, [3.8, 6.0]), (108, [6.6, 4.1]), (112, [6.8, 6.2, 5.3]), (116, [0.6]), (120, [6.5, 6.4]),
    (125, [5.5, 3.3, 3.6]), (130, [6.5, 6.0, 4.7]), (136, [7.0, 6.1, 3.6]), (140, [6.2, 5.8, 5.3, 3.5]),
    (144, [6.6, 5.0, 4.4, 3.9]), (148, [6.1, 5.6, 4.2, 3.6, 3.3, 2.9, 2.6, 2.3, 2.0, 1.7, 1.4, 1.1, 0.9]),
    (152, [6.5, 5.4, 4.9, 3.4, 3.0]), (156, [6.3, 5.9, 4.6, 3.8, 3.2]), (160, [5.8, 5.1, 4.3, 3.5, 3.3]),
    (164, [6.1, 6.0, 5.2, 4.0]), (168, [6.4, 5.5, 3.6]), (172, [6.2, 5.0, 4.5]), (176, [6.5, 5.3, 4.7]),
    (180, [5.9, 4.9, 3.3]), (184, [6.6, 6.3, 4.5, 3.0]), (188, [6.2, 4.6, 3.3, 3.1]),
    (192, [6.4, 5.7, 3.5, 3.0]), (196, [6.0, 5.0, 3.9, 3.6]), (200, [6.9, 5.5, 3.8]),
    (204, [6.3, 4.2, 3.9, 3.6, 3.3]), (206, [6.3, 5.1, 3.7, 3.2]), (209, [6.0, 4.5, 2.4, 2.1]),
    (216, [7.1, 6.0]), (220, [6.3, 5.8, 5.0, 4.6, 3.2, 2.9]), (224, [6.7, 6.1, 5.5, 4.9]),
    (228, [6.5, 5.6, 4.5]), (232, [6.3, 6.0, 5.2, 3.8]), (236, [5.9, 5.3, 3.4]),
    (240, [4.6, 3.8, 3.6, 3.3, 3.1, 2.9]), (244, [6.6, 5.8, 5.0, 4.2, 3.5, 3.2, 3.0]),
    (248, [6.4, 5.4, 4.7, 3.6, 3.2]), (252, [6.0, 5.1]), (256, [3.4, 3.2]), (262, [7.0, 6.3, 5.7, 3.3]),
    (270, [6.4, 5.8, 4.8]), (282, [7.1, 4.9]), (297, [7.5, 1.3]),
]
s13_blue = [
    (0, [2.2, 2.8, 3.0]), (3, [2.5, 2.9, 3.2]), (6, [2.7, 3.1, 3.2]), (12, [3.3]), (22, [2.6, 2.9, 3.2]),
    (26, [2.8, 3.1, 3.3]), (30, [1.8, 2.7, 3.0, 3.3]), (34, [3.2, 2.8]), (40, [2.2, 2.0, 3.0]),
    (45, [3.3, 3.1]), (48, [2.6, 2.9, 3.2, 3.4]), (53, [3.0, 3.3, 3.5]), (57, [2.2, 2.6]),
    (60, [2.1, 2.3, 2.9, 3.1]), (65, [2.5, 2.9, 3.2]), (69, [2.7, 3.1, 3.3]), (73, [1.9, 2.3, 2.5, 3.0]),
    (77, [2.6, 2.8, 3.1]), (82, [2.1, 2.4, 2.9, 3.2]), (86, [2.2, 2.6, 3.0]), (90, [2.1, 2.3, 2.8, 3.1]),
    (95, [2.9, 3.2, 3.3]), (100, [2.7, 3.0, 3.3]), (105, [2.9, 3.1, 3.5]), (110, [2.8, 3.2]),
    (116, [3.0, 3.2, 3.4]), (120, [2.8, 3.1]), (126, [2.9, 3.1, 3.3]), (130, [2.6, 2.8, 3.0]),
    (134, [2.0, 2.1]), (138, [3.0, 3.2]), (142, [2.5, 2.9, 3.1, 3.3]), (145, [2.4, 2.7, 3.0, 3.2, 3.4]),
    (148, [2.2, 2.5, 2.7, 2.9, 3.1, 3.3]), (151, [2.6, 2.9, 3.2, 3.5]), (154, [2.8, 3.0, 3.3, 3.6]),
    (158, [2.4, 2.9, 3.2, 3.5]), (162, [2.6, 3.1, 3.4, 3.6]), (166, [2.8, 3.0, 3.3]), (170, [3.0, 3.2, 3.6]),
    (175, [2.7, 2.9, 3.2]), (180, [2.3, 2.8, 3.1]), (185, [2.9, 3.1, 3.3]), (190, [2.7, 3.0, 3.2, 3.5]),
    (195, [3.1, 3.3]), (200, [2.9, 3.2, 3.4, 3.7]), (204, [3.0, 3.3, 3.6, 3.8]), (208, [2.2, 2.4, 3.2, 3.5]),
    (213, [3.1, 3.4]), (220, [3.2, 3.5, 3.7]), (225, [3.0, 3.4, 3.7]), (230, [3.3, 3.5]),
    (235, [3.1, 3.4, 3.6]), (240, [3.0, 3.2, 3.5]), (244, [2.8, 3.1, 3.3, 3.7]), (248, [2.9, 3.2, 3.4]),
    (252, [3.0, 3.3, 3.8]), (256, [2.0, 3.1, 3.6]), (260, [3.1, 3.4]), (264, [3.7, 3.2]), (268, [3.1, 3.2]),
    (281, [3.1, 3.0]), (297, [1.8, 1.9, 2.0]),
]
PANEL_DATA = [(s3_red, s3_blue), (s7_red, s7_blue), (s9_red, s9_blue),
              (s10_red, s10_blue), (s12_red, s12_blue), (s13_red, s13_blue)]

# ---- styling ----
BG = "#eaf1f4"
STRIP = "#d8e4eb"
FRAME = "#2e2e2e"
RED = "#ff0000"
BLUE = "#0000ff"
FONT = "Liberation Sans"
XMIN, XMAX = -15, 314
YBOT, YDATA_TOP, YTOP = -0.475, 8.46, 9.60
K_RIGHT = 1.885


def expand(stripes):
    xs, ys = [], []
    for d, vals in stripes:
        for v in vals:
            xs.append(d)
            ys.append(v)
    return xs, ys


def style_axis(ax):
    ax.axis_line_color = None
    ax.major_tick_in = 0
    ax.minor_tick_line_color = None
    ax.major_tick_line_color = "#444444"
    ax.major_tick_line_width = 1
    ax.major_label_text_font = FONT
    ax.major_label_text_font_size = "16px"
    ax.major_label_text_color = "#111111"


def make_panel(idx, name, red, blue):
    row, col = divmod(idx, 3)
    mbl = 29 if col == 0 else 0
    mbr = 35 if col == 2 else 0
    mbb = 74 if row == 1 else 2
    fw = 233 if col == 0 else 234
    p = figure(width=fw + mbl + mbr, height=212 + mbb,
               x_range=Range1d(XMIN, XMAX), y_range=Range1d(YBOT, YTOP),
               output_backend="svg", toolbar_location=None,
               x_axis_location=None, y_axis_location=None,
               min_border_left=mbl, min_border_right=mbr, min_border_top=0, min_border_bottom=mbb,
               background_fill_color="white", border_fill_color=BG,
               outline_line_color=FRAME, outline_line_width=2)
    p.xgrid.visible = False
    p.ygrid.visible = False

    # strip header
    p.add_layout(BoxAnnotation(bottom=YDATA_TOP, fill_color=STRIP, fill_alpha=1.0,
                               line_color="#8a949a", line_width=1))
    p.add_layout(Span(location=YDATA_TOP, dimension="width", line_color=FRAME, line_width=2))
    p.add_layout(Label(x=(XMIN + XMAX) / 2, y=(YDATA_TOP + YTOP) / 2, text=name,
                       text_align="center", text_baseline="middle", text_font=FONT,
                       text_font_size="16px", text_color="#111111"))

    bx, by = expand(blue)
    rx, ry = expand(red)
    p.scatter(bx, by, size=5, fill_color=BLUE, line_color=None)
    p.scatter(rx, ry, size=4.2, fill_color=RED, line_color=None)

    if col == 0:
        ax = LinearAxis(ticker=FixedTicker(ticks=Y_TICKS_LEFT))
        style_axis(ax)
        ax.major_tick_out = 7
        ax.major_label_standoff = 3
        p.add_layout(ax, "left")
    if col == 2:
        p.extra_y_ranges = {"right": Range1d(YBOT * K_RIGHT, YTOP * K_RIGHT)}
        ax = LinearAxis(y_range_name="right", ticker=FixedTicker(ticks=Y_TICKS_RIGHT))
        style_axis(ax)
        ax.major_tick_out = 6
        ax.major_label_standoff = 2
        p.add_layout(ax, "right")
    if row == 1:
        ax = LinearAxis(ticker=FixedTicker(ticks=X_TICKS))
        style_axis(ax)
        ax.major_tick_out = 6
        ax.major_label_standoff = 4
        ax.major_label_orientation = "vertical"
        if col == 1:
            ax.axis_label = X_LABEL
            ax.axis_label_text_font = FONT
            ax.axis_label_text_font_size = "20px"
            ax.axis_label_text_font_style = "normal"
            ax.axis_label_text_color = "#111111"
            ax.axis_label_standoff = 10
        p.add_layout(ax, "below")
    return p


panels = [make_panel(i, SUBJECTS[i], PANEL_DATA[i][0], PANEL_DATA[i][1]) for i in range(6)]

title_fig = figure(width=765, height=69, x_range=Range1d(0, 1), y_range=Range1d(0, 1),
                   output_backend="svg", toolbar_location=None,
                   x_axis_location=None, y_axis_location=None, min_border=0,
                   outline_line_color=None, background_fill_color=BG, border_fill_color=BG)
title_fig.xgrid.visible = False
title_fig.ygrid.visible = False
for i, line in enumerate(TITLE_LINES):
    title_fig.add_layout(Label(x=382.5, y=52 - 30 * i, x_units="screen", y_units="screen",
                               text=line, text_align="center", text_baseline="middle",
                               text_font=FONT, text_font_size="27px", text_color="#1c2d5a"))

grid = gridplot([panels[:3], panels[3:]], toolbar_location=None)
grid.spacing = 0
layout = column(title_fig, grid, spacing=0)

html = file_html(layout, INLINE, title="Palisades by Subject")
html = html.replace("<body>", '<body style="background-color:#eaf1f4;">', 1)
open("out.html", "w").write(html)
